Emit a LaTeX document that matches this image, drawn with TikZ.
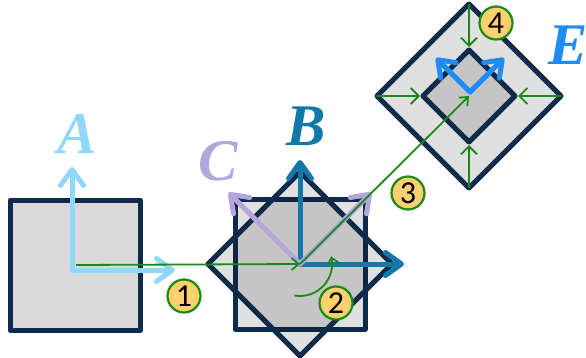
\documentclass[tikz,border=0pt]{standalone}
\usepackage{fontspec}
\setmainfont{Liberation Serif}
\newfontfamily\numfont{Carlito}
\usetikzlibrary{arrows.meta,calc}
\definecolor{navy}{HTML}{0F2B4C}
\definecolor{colA}{HTML}{90D8F8}
\definecolor{colB}{HTML}{1278A8}
\definecolor{colC}{HTML}{B4A5DA}
\definecolor{colE}{HTML}{1E8CF5}
\definecolor{grn}{HTML}{188A18}
\definecolor{yel}{HTML}{FFD06E}
\begin{document}
\begin{tikzpicture}[x=1pt,y=1pt,
  shapebox/.style={draw=navy,line width=5pt,line join=round},
  solidfill/.style={fill={rgb,255:red,217;green,217;blue,217}},
  seefill/.style={fill=black,fill opacity=0.12},
  axisarrow/.style={line width=5pt,line cap=round,-{Straight Barb[length=16pt,width=23pt,line cap=round,round]}},
  smallaxis/.style={line width=5pt,line cap=round,-{Straight Barb[length=15pt,width=22pt,line cap=round,round]}},
  grnarrow/.style={draw=grn,line width=1.8pt,-{Straight Barb[length=7pt,width=12pt]}},
  scalearrow/.style={draw=grn,line width=1.8pt,-{Straight Barb[length=8pt,width=16pt]}},
  steplabel/.style={circle,draw=grn,line width=2.2pt,fill=yel,minimum size=33pt,inner sep=0pt,font=\numfont\fontsize{32}{32}\selectfont},
  framelabel/.style={anchor=base,font=\fontsize{59}{59}\selectfont\bfseries\itshape}]
\useasboundingbox (0,0) rectangle (586,357);

% centres
\coordinate (Ac) at (75,92);
\coordinate (Ao) at (72,87);
\coordinate (Bc) at (300,93);
\coordinate (Ec) at (469,261);
\coordinate (Eo) at (470,265);

% frame A
\draw[shapebox,solidfill] (10,27) rectangle (140,157);

% frame B (square and diamond)
\draw[shapebox,seefill] ($(Bc)+(-65,-65)$) rectangle ($(Bc)+(65,65)$);
\draw[shapebox,seefill] ($(Bc)+(-92,0)$) -- ($(Bc)+(0,92)$) -- ($(Bc)+(92,0)$) -- ($(Bc)+(0,-92)$) -- cycle;

% frame E
\draw[shapebox,seefill] ($(Ec)+(-92,0)$) -- ($(Ec)+(0,92)$) -- ($(Ec)+(92,0)$) -- ($(Ec)+(0,-92)$) -- cycle;
\draw[shapebox,seefill] ($(Ec)+(-46,0)$) -- ($(Ec)+(0,46)$) -- ($(Ec)+(46,0)$) -- ($(Ec)+(0,-46)$) -- cycle;

% scaling arrows (4)
\draw[scalearrow] ($(Ec)+(0,92)$) -- ($(Ec)+(0,49)$);
\draw[scalearrow] ($(Ec)+(0,-92)$) -- ($(Ec)+(0,-49)$);
\draw[scalearrow] ($(Ec)+(-92,0)$) -- ($(Ec)+(-49,0)$);
\draw[scalearrow] ($(Ec)+(92,0)$) -- ($(Ec)+(49,0)$);

% A axes
\draw[axisarrow,draw=colA] (Ao) -- ++(0,103);
\draw[axisarrow,draw=colA] (Ao) -- ++(103,0);

% B axes
\draw[axisarrow,draw=colB] (Bc) -- ++(0,104);
\draw[axisarrow,draw=colB] (Bc) -- ++(104,0);

% C axes
\draw[axisarrow,draw=colC] (Bc) -- ++(135:101);
\draw[axisarrow,draw=colC] (Bc) -- ++(45:101);

% E axes
\draw[smallaxis,draw=colE] (Eo) -- ++(135:48);
\draw[smallaxis,draw=colE] (Eo) -- ++(45:48);

% step connectors
\draw[grnarrow] ($(Ac)+(1,0)$) -- (Bc);
\draw[grnarrow] ($(Bc)+(-100:32)$) arc[start angle=-100,end angle=14,radius=32];
\draw[grnarrow] (Bc) -- (Ec);

% step numbers
\node[steplabel] (s1) at (184,61) {1};
\node[steplabel] (s2) at (336,54) {2};
\node[steplabel] (s3) at (408,164) {3};
\node[steplabel] (s4) at (496,334) {4};

% frame labels
\node[framelabel,text=colA] (lA) at (77,204) {A};
\node[framelabel,text=colB] (lB) at (306,212) {B};
\node[framelabel,text=colC] (lC) at (218,177) {C};
\node[framelabel,text=colE] (lE) at (568,292) {E};
\end{tikzpicture}
\end{document}
